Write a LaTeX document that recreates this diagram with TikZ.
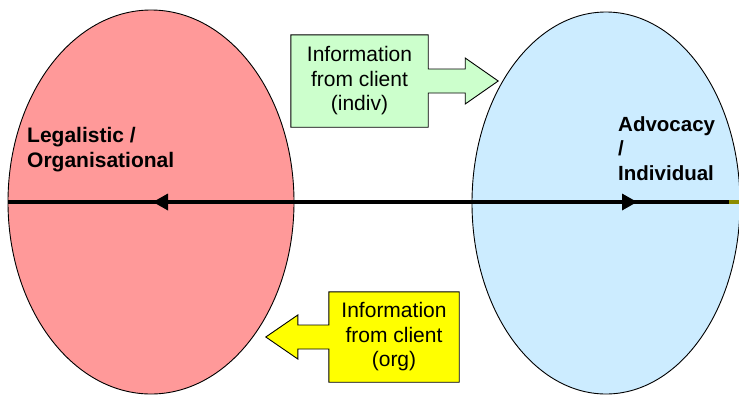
\documentclass[tikz,border=0pt]{standalone}
\usepackage{fontspec}
\setmainfont{Liberation Sans}
\usetikzlibrary{calc,shapes.geometric}
\definecolor{redfill}{HTML}{FF9999}
\definecolor{bluefill}{HTML}{CCECFF}
\definecolor{greenfill}{HTML}{CCFFCC}
\definecolor{yellowfill}{HTML}{FFFF00}
\definecolor{olivec}{HTML}{8C8C00}
\pgfdeclarelayer{bg}
\pgfdeclarelayer{mid}
\pgfsetlayers{bg,mid,main}
\begin{document}
\begin{tikzpicture}[x=1pt,y=-1pt,
  oval/.style={ellipse, draw=black, line width=0.9pt, inner sep=0pt},
  calltext/.style={align=center, inner sep=0pt, font=\fontsize{21}{24.5}\selectfont},
  boldlabel/.style={align=left, inner sep=0pt, font=\bfseries\fontsize{21}{25}\selectfont},
  callshape/.style={draw=black, line width=0.9pt, line join=miter}]
\useasboundingbox (0,0) rectangle (739,394);
\clip (0,0) rectangle (739,394);
\begin{pgfonlayer}{bg}
  \node[oval, fill=redfill, minimum width=286, minimum height=384] (red) at (151,202) {};
  \node[oval, fill=bluefill, minimum width=268, minimum height=382] (blue) at (606,203) {};
  \coordinate (L) at (8,202);
  \coordinate (R) at (729,202);
  \coordinate (RE) at (740,202);
  \draw[line width=3.5pt] (L) -- (R);
  \draw[line width=3.5pt, olivec] (R) -- (RE);
  \fill (153,202) -- (168,193.5) -- (168,210.5) -- cycle;
  \fill (637,202) -- (622,193.5) -- (622,210.5) -- cycle;
\end{pgfonlayer}
% green callout
\node[calltext, minimum width=137, minimum height=92] (g) at (359.5,81)
  {Information\\from client\\(indiv)};
\begin{pgfonlayer}{mid}
  \draw[callshape, fill=greenfill]
    (g.north west) -- (g.north east) -- ($(g.east)+(0,-12)$) -- ($(g.east)+(37,-12)$)
    -- ($(g.east)+(37,-23)$) -- ($(g.east)+(70,0)$) -- ($(g.east)+(37,23)$)
    -- ($(g.east)+(37,12)$) -- ($(g.east)+(0,12)$) -- (g.south east) -- (g.south west) -- cycle;
\end{pgfonlayer}
% yellow callout
\node[calltext, minimum width=130, minimum height=90] (y) at (394,337)
  {Information\\from client\\(org)};
\begin{pgfonlayer}{mid}
  \draw[callshape, fill=yellowfill]
    (y.north east) -- (y.north west) -- ($(y.west)+(0,-12)$) -- ($(y.west)+(-31,-12)$)
    -- ($(y.west)+(-31,-22)$) -- ($(y.west)+(-63,0)$) -- ($(y.west)+(-31,22)$)
    -- ($(y.west)+(-31,12)$) -- ($(y.west)+(0,12)$) -- (y.south west) -- (y.south east) -- cycle;
\end{pgfonlayer}
\node[boldlabel, anchor=north west] (leg) at (27,127.5) {Legalistic /\\Organisational};
\node[boldlabel, anchor=north west, font=\bfseries\fontsize{20.5}{24.5}\selectfont] (adv) at (618,116) {Advocacy\\/\\Individual};
\end{tikzpicture}
\end{document}
